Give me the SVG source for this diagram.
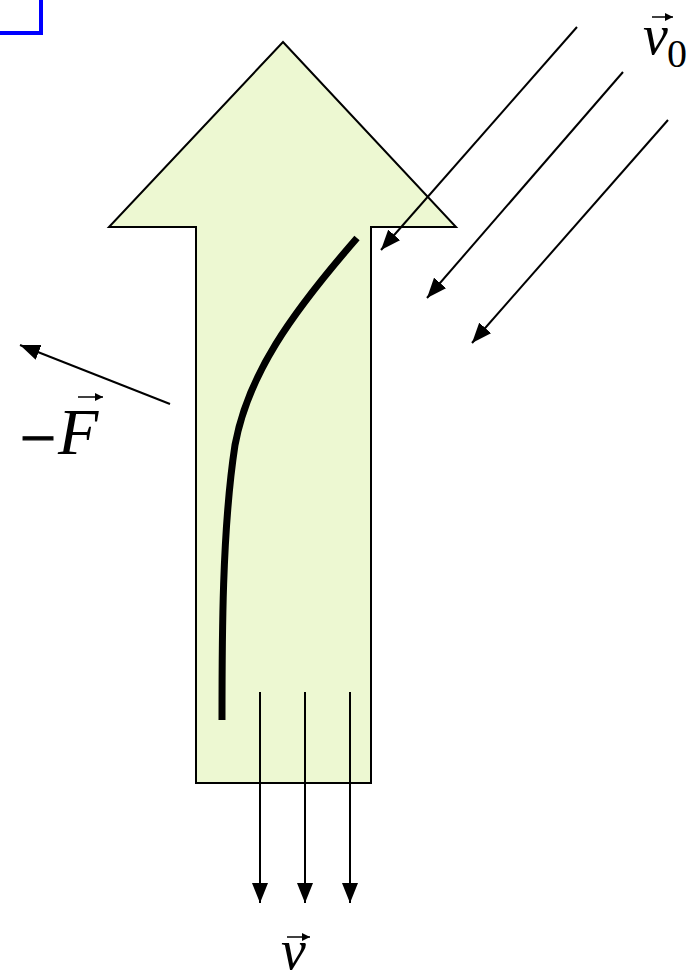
<svg xmlns="http://www.w3.org/2000/svg" width="692" height="980" viewBox="0 0 692 980">
<style>
.ln{stroke:#000;stroke-width:2;fill:none}
.math{font-family:"Liberation Serif","Times New Roman",serif;font-style:italic;fill:#000}
.up{font-family:"Liberation Serif","Times New Roman",serif;fill:#000}
</style>
<defs>
<marker id="ah" viewBox="0 0 10 10" refX="10" refY="5" markerWidth="10" markerHeight="8" markerUnits="userSpaceOnUse" orient="auto"><path d="M0,0 L10,5 L0,10 z" fill="#000"/></marker>
<marker id="ahBig" viewBox="0 0 20 16" refX="20" refY="8" markerWidth="20" markerHeight="16" markerUnits="userSpaceOnUse" orient="auto"><path d="M0,0 L20,8 L0,16 z" fill="#000"/></marker>
</defs>
<path d="M0,33 H41 V0" fill="none" stroke="#0000ff" stroke-width="4"/>
<g id="bigArrow">
<polygon points="283,42 456,227 371,227 371,783 196,783 196,227 109,227" fill="#EDF8D2" stroke="#000" stroke-width="2"/>
</g>
<g id="trajectory">
<path d="M357,238 C290,315 248,375 235,445 C222,530 222,640 222,720" fill="none" stroke="#000" stroke-width="7"/>
</g>
<g id="connectors">
<line class="ln" x1="577" y1="27" x2="381" y2="250" marker-end="url(#ahBig)"/>
<line class="ln" x1="623" y1="72" x2="427" y2="298" marker-end="url(#ahBig)"/>
<line class="ln" x1="668" y1="120" x2="472" y2="343" marker-end="url(#ahBig)"/>
<line class="ln" x1="170" y1="404" x2="20" y2="345" marker-end="url(#ahBig)"/>
<line class="ln" x1="260" y1="692" x2="260" y2="903" marker-end="url(#ahBig)"/>
<line class="ln" x1="305" y1="692" x2="305" y2="903" marker-end="url(#ahBig)"/>
<line class="ln" x1="350" y1="692" x2="350" y2="903" marker-end="url(#ahBig)"/>
</g>
<g id="label-v0">
<line x1="652" y1="17" x2="673" y2="17" stroke="#000" stroke-width="1.5" marker-end="url(#ah)"/>
<text class="math" x="643" y="54" font-size="56">v</text>
<text class="up" x="667" y="67" font-size="40">0</text>
</g>
<g id="label-F">
<text class="up" x="20" y="458" font-size="60" stroke="#000" stroke-width="1.2" textLength="36" lengthAdjust="spacingAndGlyphs">−</text>
<text class="math" x="58" y="454" font-size="66">F</text>
<line x1="78" y1="397" x2="103" y2="397" stroke="#000" stroke-width="1.5" marker-end="url(#ah)"/>
</g>
<g id="label-v">
<line x1="287" y1="937" x2="310" y2="937" stroke="#000" stroke-width="1.5" marker-end="url(#ah)"/>
<text class="math" x="281" y="969" font-size="56">v</text>
</g>
</svg>
